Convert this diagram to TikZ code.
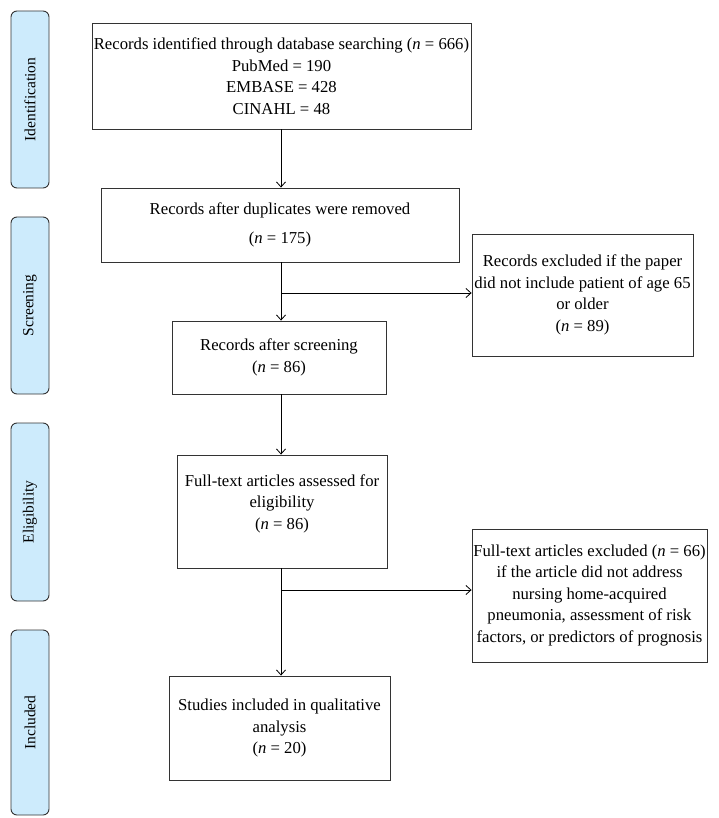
\documentclass[tikz,border=0pt]{standalone}
\usepackage{fontspec}
\setmainfont{Liberation Serif}
\usetikzlibrary{arrows.meta}
\definecolor{stagefill}{HTML}{CDEBFC}
\definecolor{edgegray}{HTML}{333333}
\begin{document}
\begin{tikzpicture}[x=1pt,y=-1pt,
  box/.style={draw=edgegray,line width=0.9pt,rectangle,inner sep=0pt,align=center,
    font=\fontsize{16.7}{21.5}\selectfont},
  stage/.style={draw=edgegray,line width=0.9pt,fill=stagefill,rounded corners=6pt,
    rectangle,inner sep=0pt,rotate=90,minimum height=38pt,
    font=\fontsize{15.5}{18}\selectfont},
  arr/.style={line width=0.8pt,-{Straight Barb[length=5pt,width=9pt]}},
  ln/.style={line width=0.8pt}]
\useasboundingbox (0,0) rectangle (718,818);
% stage labels
\node[stage,minimum width=177pt] (s1) at (30,99.5) {Identification};
\node[stage,minimum width=177pt] (s2) at (30,305.5) {Screening};
\node[stage,minimum width=178pt] (s3) at (30,512) {Eligibility};
\node[stage,minimum width=185pt] (s4) at (30,722.5) {Included};
% boxes
\node[box,minimum width=379pt,minimum height=106pt] (b1) at (281.5,76)
  {Records identified through database searching (\textit{n} = 666)\\PubMed = 190\\EMBASE = 428\\CINAHL = 48};
\node[box,minimum width=358pt,minimum height=74pt] (b2) at (280,225)
  {Records after duplicates were removed\\[8pt](\textit{n} = 175)};
\node[box,minimum width=221pt,minimum height=122pt] (e1) at (582.5,295)
  {Records excluded if the paper\\did not include patient of age 65\\or older\\(\textit{n} = 89)};
\node[box,minimum width=214pt,minimum height=73pt] (b3) at (279,357.5)
  {Records after screening\\(\textit{n} = 86)};
\node[box,minimum width=210pt,minimum height=113pt] (b4) at (282,511.5)
  {Full-text articles assessed for\\eligibility\\(\textit{n} = 86)\\[-2pt]\mbox{}};
\node[box,minimum width=235pt,minimum height=133pt] (e2) at (589.5,595.5)
  {Full-text articles excluded (\textit{n} = 66)\\if the article did not address\\nursing home-acquired\\pneumonia, assessment of risk\\factors, or predictors of prognosis};
\node[box,minimum width=221pt,minimum height=104pt] (b5) at (279.5,728)
  {Studies included in qualitative\\analysis\\(\textit{n} = 20)};
% connectors
\coordinate (col) at (281,0);
\coordinate (j1) at (281,293);
\coordinate (j2) at (281,590);
\draw[arr] (b1.south -| col) -- (b2.north -| col);
\draw[arr] (b2.south -| col) -- (b3.north -| col);
\draw[arr] (j1) -- (j1 -| e1.west);
\draw[arr] (b3.south -| col) -- (b4.north -| col);
\draw[arr] (b4.south -| col) -- (b5.north -| col);
\draw[arr] (j2) -- (j2 -| e2.west);
\end{tikzpicture}
\end{document}
